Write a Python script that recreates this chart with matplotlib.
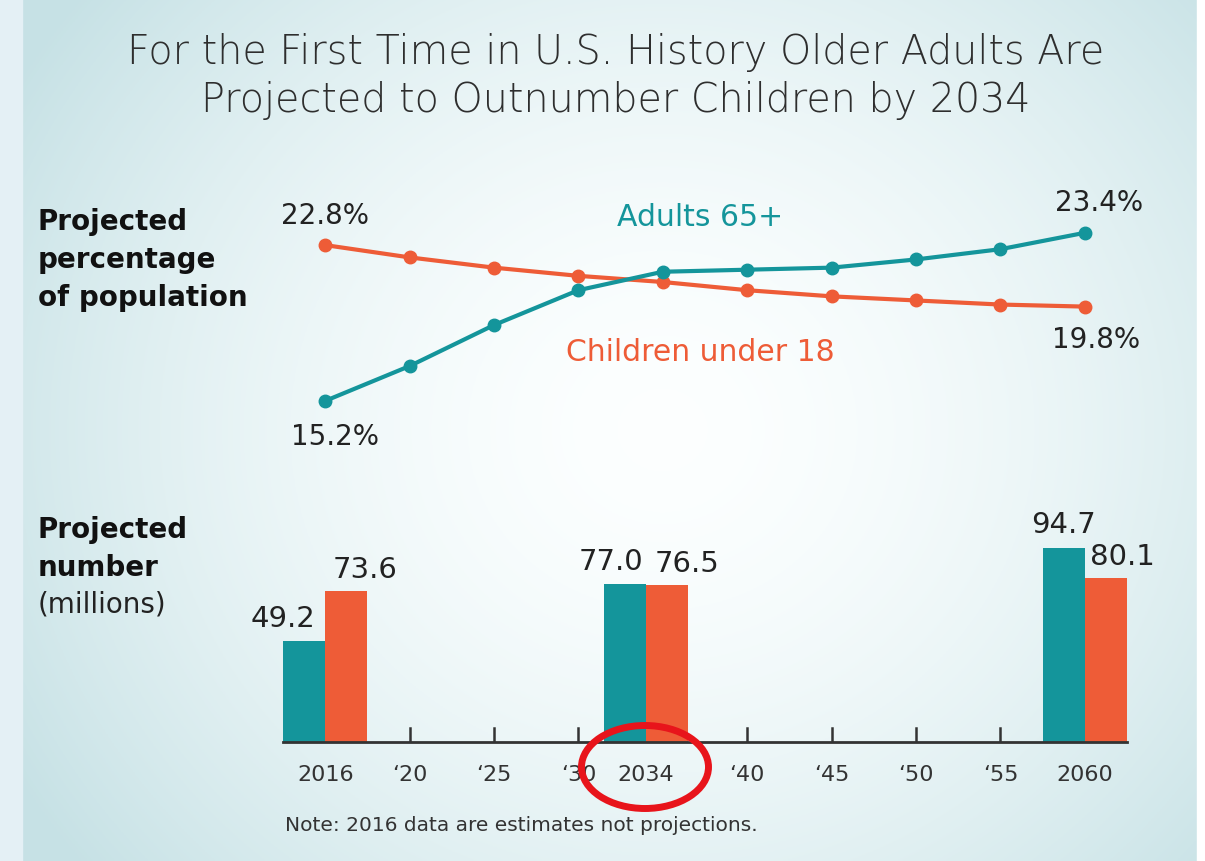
import numpy as np
import matplotlib
matplotlib.use("Agg")
import matplotlib.pyplot as plt
from matplotlib.patches import Ellipse, Rectangle

# data
years = ["2016", "2020", "2025", "2030", "2035", "2040", "2045", "2050", "2055", "2060"]
adults_pct = [15.2, 16.9, 18.9, 20.6, 21.5, 21.6, 21.7, 22.1, 22.6, 23.4]
children_pct = [22.8, 22.2, 21.7, 21.3, 21.0, 20.6, 20.3, 20.1, 19.9, 19.8]

bar_years = ["2016", "2034", "2060"]
bar_pos = [0, 3.8, 9]
adults_num = [49.2, 77.0, 94.7]
children_num = [73.6, 76.5, 80.1]

tick_pos = [0, 1, 2, 3, 3.8, 5, 6, 7, 8, 9]
tick_labels = ["2016", "\u201820", "\u201825", "\u201830", "2034", "\u201840",
               "\u201845", "\u201850", "\u201855", "2060"]

teal = "#14959b"
orange = "#ee5c37"
dark = "#222222"

plt.rcParams['font.family'] = ['DejaVu Sans']

fig = plt.figure(figsize=(12.05, 8.62), dpi=100)

# background gradient
bg = fig.add_axes([0, 0, 1, 1], zorder=-5)
gx, gy = np.meshgrid(np.linspace(0, 1, 400), np.linspace(0, 1, 300))
d = np.sqrt(((gx - 0.55) / 0.62) ** 2 + ((gy - 0.5) / 0.8) ** 2)
t = np.clip(d, 0, 1) ** 1.7
white = np.array([0.99, 1.0, 1.0])
edge = np.array([0.78, 0.885, 0.9])
img = white[None, None, :] * (1 - t[..., None]) + edge[None, None, :] * t[..., None]
bg.imshow(img, extent=[0, 1, 0, 1], aspect='auto', origin='upper')
bg.set_xlim(0, 1)
bg.set_ylim(0, 1)
bg.axis('off')
fig.patches.append(Rectangle((0, 0), 22 / 1205, 1, transform=fig.transFigure,
                             color="#e4f0f5", zorder=-4))
fig.patches.append(Rectangle((1197 / 1205, 0), 8 / 1205, 1, transform=fig.transFigure,
                             color="#ffffff", zorder=-4))

# title
fig.text(0.511, 1 - 52 / 862, "For the First Time in U.S. History Older Adults Are",
         ha='center', va='center', fontsize=28.5, color="#2e2e2e", fontweight='light')
fig.text(0.511, 1 - 100 / 862, "Projected to Outnumber Children by 2034",
         ha='center', va='center', fontsize=28.5, color="#2e2e2e", fontweight='light')

# left labels
for i, s in enumerate(["Projected", "percentage", "of population"]):
    fig.text(38 / 1205, 1 - (222 + 38 * i) / 862, s, ha='left', va='center',
             fontsize=20, fontweight='bold', color="#111111")
fig.text(38 / 1205, 1 - 530 / 862, "Projected", ha='left', va='center',
         fontsize=20, fontweight='bold', color="#111111")
fig.text(38 / 1205, 1 - 568 / 862, "number", ha='left', va='center',
         fontsize=20, fontweight='bold', color="#111111")
fig.text(38 / 1205, 1 - 605 / 862, "(millions)", ha='left', va='center',
         fontsize=20, color="#222222")

# line chart
ax1 = fig.add_axes([283 / 1205, 1 - 406 / 862, 844 / 1205, 184.5 / 862])
ax1.patch.set_alpha(0)
x = np.arange(len(years))
ax1.plot(x, children_pct, color=orange, lw=3, marker='o', ms=9, zorder=3, clip_on=False)
ax1.plot(x, adults_pct, color=teal, lw=3, marker='o', ms=9, zorder=3, clip_on=False)
ax1.set_xlim(-0.5, 9.5)
ax1.set_ylim(15, 24)
ax1.axis('off')

ax1.annotate("22.8%", (0, children_pct[0]), xytext=(0, 22), textcoords='offset points',
             ha='center', va='center', fontsize=20, color=dark)
ax1.annotate("15.2%", (0, adults_pct[0]), xytext=(7, -25), textcoords='offset points',
             ha='center', va='center', fontsize=20, color=dark)
ax1.annotate("23.4%", (9, adults_pct[-1]), xytext=(10, 22), textcoords='offset points',
             ha='center', va='center', fontsize=20, color=dark)
ax1.annotate("19.8%", (9, children_pct[-1]), xytext=(8, -23), textcoords='offset points',
             ha='center', va='center', fontsize=20, color=dark)
ax1.text(4.44, 24.2, "Adults 65+", ha='center', va='center', fontsize=21.5,
         color=teal, clip_on=False)
ax1.text(4.44, 17.6, "Children under 18", ha='center', va='center', fontsize=21.5,
         color=orange, clip_on=False)

# bar chart
ax2 = fig.add_axes([283 / 1205, 1 - 743 / 862, 844 / 1205, 205 / 862])
ax2.patch.set_alpha(0)
w = 0.5
bp = np.array(bar_pos)
ax2.bar(bp - w / 2, adults_num, width=w, color=teal, zorder=2)
ax2.bar(bp + w / 2, children_num, width=w, color=orange, zorder=2)
ax2.set_xlim(-0.5, 9.5)
ax2.set_ylim(0, 100)
for s in ['top', 'right', 'left']:
    ax2.spines[s].set_visible(False)
ax2.spines['bottom'].set_color("#333333")
ax2.spines['bottom'].set_linewidth(2)
ax2.set_yticks([])
ax2.set_xticks(tick_pos)
ax2.set_xticklabels(tick_labels, fontsize=16, color="#333333")
ax2.tick_params(axis='x', length=0, pad=16)
for p in [1, 2, 3, 5, 6, 7, 8]:
    ax2.plot([p, p], [0, 7], color="#333333", lw=1.8, zorder=1)

# value labels on bars
adult_dx = [-0.25, -0.17, 0.0]
child_dx = [0.22, 0.24, 0.2]
for i in range(len(bar_pos)):
    ax2.annotate(f"{adults_num[i]:.1f}", (bp[i] - w / 2 + adult_dx[i], adults_num[i]),
                 xytext=(0, 17), textcoords='offset points', ha='center', va='center',
                 fontsize=21, color=dark)
    ax2.annotate(f"{children_num[i]:.1f}", (bp[i] + w / 2 + child_dx[i], children_num[i]),
                 xytext=(0, 16), textcoords='offset points', ha='center', va='center',
                 fontsize=21, color=dark)

# note
fig.text(285 / 1205, 1 - 826 / 862, "Note: 2016 data are estimates not projections.",
         ha='left', va='center', fontsize=14.5, color="#333333")

# red circle around 2034
fig.patches.append(Ellipse((645 / 1205, 1 - 768 / 862), 127 / 1205, 83 / 862,
                           transform=fig.transFigure, fill=False, edgecolor="#e8141b",
                           lw=5, zorder=10))

fig.savefig("out.png", dpi=100)
